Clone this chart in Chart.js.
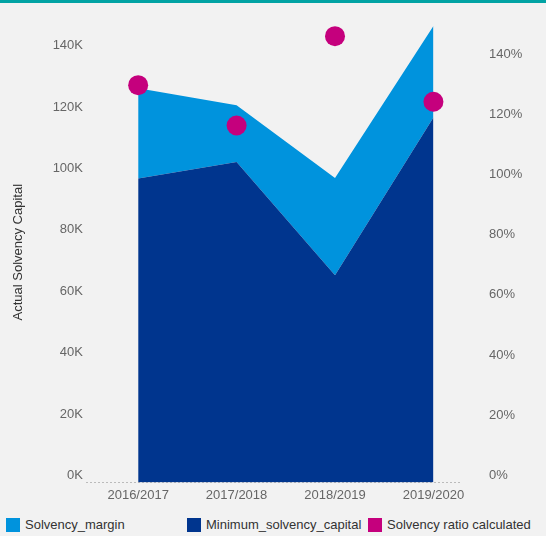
<!DOCTYPE html>
<html>
<head>
<meta charset="utf-8">
<script src="https://cdn.jsdelivr.net/npm/chart.js@4.4.0/dist/chart.umd.min.js"></script>
<style>
    html, body {
        margin: 0;
        padding: 0;
        background: #f2f2f2;
        font-family: "Liberation Sans", Arial, sans-serif;
    }
    .frame {
        width: 546px;
        height: 536px;
        border-top: 3px solid #01a3a4;
        box-sizing: border-box;
        position: relative;
    }
    .chart-box {
        position: relative;
        width: 546px;
        height: 507px;
    }
    .legend {
        display: flex;
        padding-left: 6px;
        margin-top: 7px;
        font-size: 13px;
        color: #333;
        white-space: nowrap;
    }
    .legend-item {
        display: flex;
        align-items: center;
        width: 181px;
    }
    .legend-item:last-child { width: auto; }
    .swatch {
        width: 14px;
        height: 14px;
        margin-right: 5px;
        flex: none;
    }
</style>
</head>
<body>
<div class="frame">
    <div class="chart-box"><canvas id="chart"></canvas></div>
    <div class="legend" id="legend"></div>
</div>

<script>
    // Data
    const years = ['2016/2017', '2017/2018', '2018/2019', '2019/2020'];
    const minimumCapital = [99000, 104400, 67500, 118900];
    const solvencyMargin = [29400, 18500, 31700, 29800];
    const solvencyRatio = [132.0, 118.6, 148.3, 126.5];
    const capitalTicks = [0, 20000, 40000, 60000, 80000, 100000, 120000, 140000];
    const ratioTicks = [0, 20, 40, 60, 80, 100, 120, 140];

    const colMargin = '#0093dd';
    const colMin = '#00358e';
    const colRatio = '#c5007d';

    const idx = years.map((y, i) => i);
    const tickFont = { size: 13, family: 'Liberation Sans' };

    // fixed side width, no extra vertical room from tick labels
    const fixSide = s => {
        s.width = 86;
        s.paddingTop = 0;
        s.paddingBottom = 0;
    };

    const chart = new Chart(document.getElementById('chart'), {
        type: 'line',
        data: {
            datasets: [{
                label: 'Minimum_solvency_capital',
                data: idx.map(i => ({ x: i, y: minimumCapital[i] })),
                backgroundColor: colMin,
                borderWidth: 0,
                pointRadius: 0,
                fill: 'origin',
                yAxisID: 'y',
                order: 1
            }, {
                label: 'Solvency_margin',
                data: idx.map(i => ({ x: i, y: solvencyMargin[i] })),
                backgroundColor: colMargin,
                borderWidth: 0,
                pointRadius: 0,
                fill: '-1',
                yAxisID: 'y',
                order: 2
            }, {
                label: 'Solvency ratio calculated',
                data: idx.map(i => ({ x: i, y: solvencyRatio[i] })),
                showLine: false,
                backgroundColor: colRatio,
                borderColor: colRatio,
                pointRadius: 10,
                pointBorderWidth: 0,
                yAxisID: 'y1',
                clip: false,
                order: 0
            }]
        },
        options: {
            responsive: true,
            maintainAspectRatio: false,
            animation: false,
            layout: { padding: { top: 19, right: 0, left: 0, bottom: 2 } },
            plugins: {
                legend: { display: false },
                tooltip: { enabled: false }
            },
            scales: {
                x: {
                    type: 'linear',
                    min: -0.53,
                    max: 3.27,
                    grid: { display: false, drawTicks: false },
                    border: { display: false },
                    afterBuildTicks: s => { s.ticks = idx.map(i => ({ value: i })); },
                    ticks: {
                        padding: 5,
                        color: '#666',
                        font: tickFont,
                        callback: v => years[v]
                    }
                },
                y: {
                    stacked: true,
                    min: 0,
                    max: 150000,
                    position: 'left',
                    grid: { display: false, drawTicks: false },
                    border: { display: false },
                    afterBuildTicks: s => { s.ticks = capitalTicks.map(v => ({ value: v })); },
                    afterFit: fixSide,
                    ticks: {
                        padding: 3,
                        labelOffset: -7,
                        color: '#666',
                        font: tickFont,
                        callback: v => (v / 1000) + 'K'
                    },
                    title: {
                        display: true,
                        text: 'Actual Solvency Capital',
                        color: '#333',
                        font: tickFont,
                        padding: { top: 11, bottom: 0 }
                    }
                },
                y1: {
                    min: 0,
                    max: 153,
                    position: 'right',
                    grid: { display: false, drawTicks: false },
                    border: { display: false },
                    afterBuildTicks: s => { s.ticks = ratioTicks.map(v => ({ value: v })); },
                    afterFit: fixSide,
                    ticks: {
                        padding: 29,
                        labelOffset: -7,
                        color: '#666',
                        font: tickFont,
                        callback: v => v + '%'
                    }
                }
            }
        },
        plugins: [{
            // dotted baseline under the plot
            id: 'baseline',
            beforeDatasetsDraw(c) {
                const ctx = c.ctx, a = c.chartArea;
                const y0 = Math.round(c.scales.y.getPixelForValue(0)) + 0.5;
                ctx.save();
                ctx.strokeStyle = '#bbb';
                ctx.lineWidth = 1;
                ctx.setLineDash([2, 2]);
                ctx.beginPath();
                ctx.moveTo(a.left, y0);
                ctx.lineTo(a.right, y0);
                ctx.stroke();
                ctx.restore();
            }
        }]
    });

    // HTML legend in the reference order
    const legendOrder = [1, 0, 2];
    document.getElementById('legend').innerHTML = legendOrder.map(i => {
        const ds = chart.data.datasets[i];
        return '<div class="legend-item"><span class="swatch" style="background:' +
            ds.backgroundColor + '"></span>' + ds.label + '</div>';
    }).join('');
</script>
</body>
</html>
